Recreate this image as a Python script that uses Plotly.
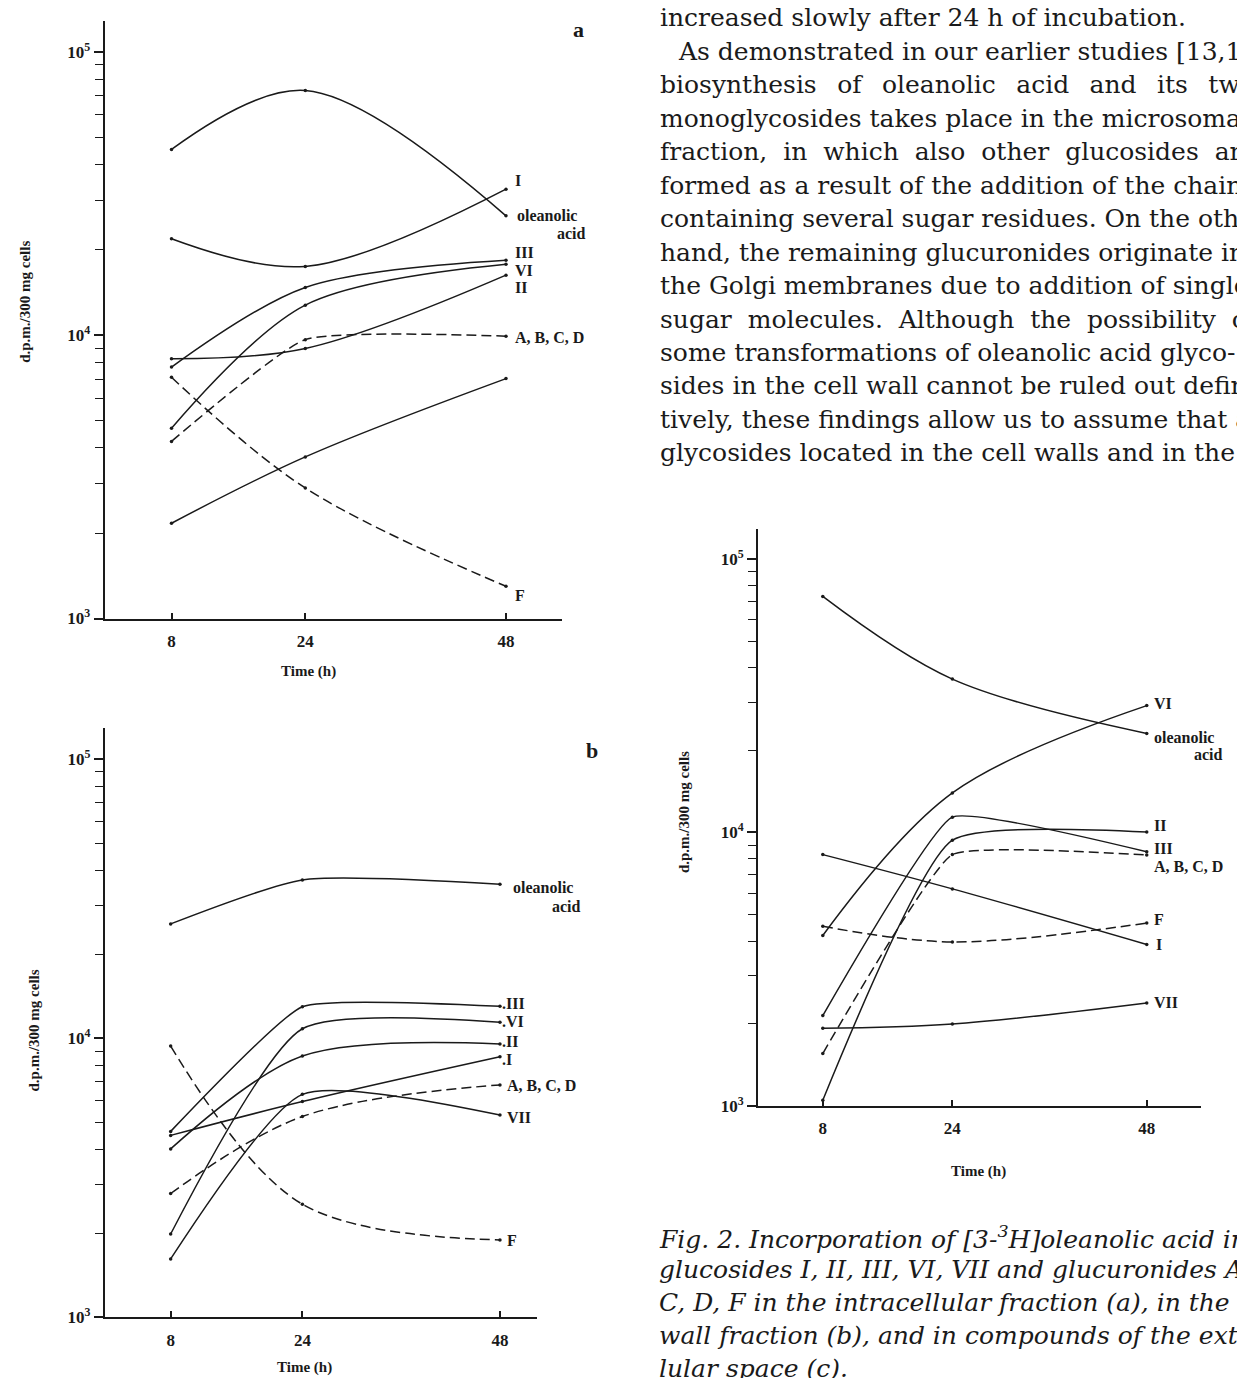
import plotly.graph_objects as go

# ---------------- data ----------------
hours = [8, 24, 48]
hour_labels = ["8", "24", "48"]
log_tickvals = [1e3, 1e4, 1e5]
log_ticktext = ["10<sup>3</sup>", "10<sup>4</sup>", "10<sup>5</sup>"]

# panel a: intracellular fraction
a_oleanolic = [45300, 73100, 26400]
a_I = [21900, 17500, 32800]
a_III = [7720, 14750, 18400]
a_VI = [4700, 12770, 17800]
a_II = [8260, 8980, 16300]
a_ABCD = [4220, 9650, 9930]
a_F = [7110, 2890, 1300]
a_VII = [2170, 3720, 7030]

# panel b: cell wall fraction
b_oleanolic = [25700, 36940, 35650]
b_III = [4640, 12980, 13020]
b_VI = [1990, 10820, 11420]
b_II = [4015, 8640, 9550]
b_I = [4490, 5935, 8590]
b_ABCD = [2780, 5245, 6810]
b_VII = [1620, 6300, 5310]
b_F = [9380, 2545, 1895]

# panel c: extracellular space
c_oleanolic = [72980, 36380, 23030]
c_VI = [4200, 13950, 29100]
c_II = [1050, 9370, 10040]
c_III = [2140, 11380, 8500]
c_ABCD = [1555, 8300, 8270]
c_F = [4540, 3980, 4665]
c_I = [8300, 6220, 3895]
c_VII = [1925, 1995, 2380]

body_lines = [
    "increased slowly after 24 h of incubation.",
    "As demonstrated in our earlier studies [13,14]",
    "biosynthesis of oleanolic acid and its two",
    "monoglycosides takes place in the microsomal",
    "fraction, in which also other glucosides are",
    "formed as a result of the addition of the chains",
    "containing several sugar residues. On the other",
    "hand, the remaining glucuronides originate in",
    "the Golgi membranes due to addition of single",
    "sugar molecules. Although the possibility of",
    "some transformations of oleanolic acid glyco-",
    "sides in the cell wall cannot be ruled out defini-",
    "tively, these findings allow us to assume that all",
    "glycosides located in the cell walls and in the",
]
caption_lines = [
    "Fig. 2. Incorporation of [3-<sup>3</sup>H]oleanolic acid into",
    "glucosides I, II, III, VI, VII and glucuronides A, B,",
    "C, D, F in the intracellular fraction (a), in the cell",
    "wall fraction (b), and in compounds of the extracel-",
    "lular space (c).",
]

# ---------------- layout helpers ----------------
W, H = 1245, 1378
INK = "#1a1a1a"
SERIF = "Liberation Serif"
BODY = "DejaVu Serif"

# word gaps used to imitate the justified column (typographic spacing only)
GAP_NORMAL = " "
GAP_WIDE = " \u00a0"
GAP_WIDER = " \u2002"
body_gaps = [GAP_NORMAL, GAP_NORMAL, GAP_WIDER, GAP_NORMAL, GAP_WIDE, GAP_NORMAL,
             GAP_NORMAL, GAP_NORMAL, GAP_NORMAL, GAP_WIDE, GAP_NORMAL, GAP_NORMAL,
             GAP_NORMAL, GAP_NORMAL]


def px(x):
    return x / W


def py(y):
    return 1 - y / H


fig = go.Figure()

SOLID, DASH = "solid", "10px,5px"

# (values, dash, spline smoothing)
panels = [
    ("x", "y", [
        (a_oleanolic, SOLID, 1.0), (a_I, SOLID, 1.0), (a_III, SOLID, 0.9),
        (a_VI, SOLID, 0.9), (a_II, SOLID, 1.0), (a_ABCD, DASH, 0.45),
        (a_F, DASH, 1.0), (a_VII, SOLID, 1.0)]),
    ("x2", "y2", [
        (b_oleanolic, SOLID, 0.6), (b_III, SOLID, 0.4), (b_VI, SOLID, 0.6),
        (b_II, SOLID, 0.9), (b_I, SOLID, 1.0), (b_ABCD, DASH, 1.0),
        (b_VII, SOLID, 0.6), (b_F, DASH, 1.0)]),
    ("x3", "y3", [
        (c_oleanolic, SOLID, 1.0), (c_VI, SOLID, 1.0), (c_II, SOLID, 0.5),
        (c_III, SOLID, 0.35), (c_ABCD, DASH, 0.35), (c_F, DASH, 1.0),
        (c_I, SOLID, 1.0), (c_VII, SOLID, 1.0)]),
]

for xa, ya, series in panels:
    for vals, dash, smooth in series:
        fig.add_trace(go.Scatter(
            x=hours, y=vals, mode="lines+markers", xaxis=xa, yaxis=ya,
            line=dict(color=INK, width=1.5, shape="spline", smoothing=smooth, dash=dash),
            marker=dict(size=3.5, color=INK), hoverinfo="skip", showlegend=False))

minor_vals = [m * 10 ** k for k in (3, 4) for m in range(2, 10)]


def xaxis_cfg(left, right, xmax, anchor):
    return dict(
        domain=[px(left), px(right)], range=[0, xmax], anchor=anchor,
        tickmode="array", tickvals=hours,
        ticktext=["<b>%s</b>" % t for t in hour_labels],
        ticks="inside", ticklen=6, tickwidth=1.5, tickcolor=INK,
        ticklabelstandoff=6,
        tickfont=dict(family=SERIF, size=17, color=INK),
        showline=True, linewidth=2, linecolor=INK,
        showgrid=False, zeroline=False, fixedrange=True)


def yaxis_cfg(bottom, top, logtop, anchor):
    return dict(
        type="log", domain=[py(bottom), py(top)], range=[3, logtop], anchor=anchor,
        tickmode="array", tickvals=log_tickvals,
        ticktext=["<b>%s</b>" % t for t in log_ticktext],
        ticks="outside", ticklen=9, tickwidth=1.5, tickcolor=INK,
        tickfont=dict(family=SERIF, size=17, color=INK),
        minor=dict(tickmode="array", tickvals=minor_vals, ticks="outside",
                   ticklen=8, tickwidth=1.3, tickcolor=INK),
        showline=True, linewidth=2, linecolor=INK,
        showgrid=False, zeroline=False, fixedrange=True)


fig.update_layout(
    width=W, height=H, margin=dict(l=0, r=0, t=0, b=0),
    paper_bgcolor="white", plot_bgcolor="white", showlegend=False,
    hovermode=False,
    xaxis=xaxis_cfg(96.6, 554, 54.7, "y"),
    yaxis=yaxis_cfg(615, 13, 5.1097, "x"),
    xaxis2=xaxis_cfg(96.8, 528.6, 52.45, "y2"),
    yaxis2=yaxis_cfg(1319, 725, 5.1127, "x2"),
    xaxis3=xaxis_cfg(750, 1193, 54.7, "y3"),
    yaxis3=yaxis_cfg(1106, 525, 5.109, "x3"),
)

ann = []


def text(x, y, s, size=16, bold=True, xanchor="left", angle=0, italic=False, family=SERIF):
    if bold:
        s = "<b>%s</b>" % s
    if italic:
        s = "<i>%s</i>" % s
    ann.append(dict(x=px(x), y=py(y), xref="paper", yref="paper", text=s,
                    showarrow=False, xanchor=xanchor, yanchor="middle",
                    textangle=angle,
                    font=dict(family=family, size=size, color=INK)))


# panel letters
text(570, 22, "a", size=22, xanchor="center")
text(584, 748, "b", size=22, xanchor="center")
text(1234, 553, "c", size=22, xanchor="center")

# axis titles
for (tx, ty) in [(300, 668), (296, 1369), (970, 1172)]:
    text(tx, ty, "Time (h)", size=15, xanchor="center")
for (tx, ty) in [(17, 296), (26, 1030), (676, 810)]:
    text(tx, ty, "d.p.m./300 mg cells", size=15, xanchor="center", angle=-90)

# series labels, panel a
text(505, 174, "I")
text(507, 209, "oleanolic")
text(580, 227, "acid", xanchor="right")
text(505, 246, "III")
text(505, 264, "VI")
text(505, 282, "II")
text(505, 332, "A, B, C, D")
text(505, 592, "F")

# series labels, panel b
text(503, 886, "oleanolic")
text(575, 905, "acid", xanchor="right")
text(492, 1003, ".III")
text(492, 1021, ".VI")
text(492, 1041, ".II")
text(492, 1059, ".I")
text(497, 1085, "A, B, C, D")
text(497, 1118, "VII")
text(497, 1242, "F")

# series labels, panel c
text(1144, 701, "VI")
text(1144, 735, "oleanolic")
text(1217, 752, "acid", xanchor="right")
text(1144, 823, "II")
text(1144, 847, "III")
text(1144, 865, "A, B, C, D")
text(1144, 918, "F")
text(1146, 943, "I")
text(1144, 1002, "VII")

# running body text
for i, line in enumerate(body_lines):
    x0 = 668 if i == 1 else 650
    spaced = body_gaps[i].join(line.split(" "))
    text(x0, 10 + 33.7 * i, spaced, size=25, bold=False, family=BODY)

# caption
for i, line in enumerate(caption_lines):
    text(649, 1238 + 33 * i, line, size=25, bold=False, italic=True, family=BODY)

fig.update_layout(annotations=ann)
fig.write_html("out.html")
